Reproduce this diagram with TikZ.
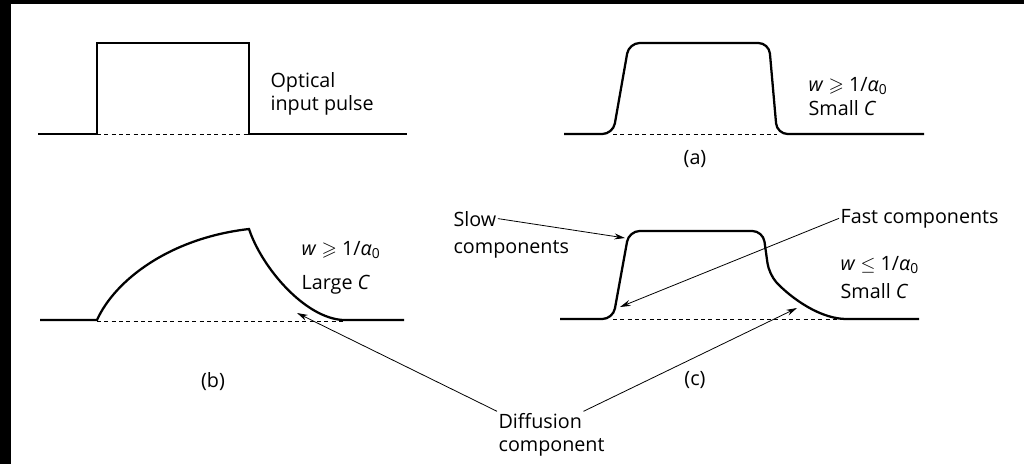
\documentclass[tikz,border=0pt]{standalone}
\usepackage{fontspec}
\usepackage{amssymb}
\setmainfont{Open Sans}
\usetikzlibrary{arrows.meta}

\begin{document}
\begin{tikzpicture}[x=0.75pt,y=-0.75pt,
    pulse/.style={black, line width=1.7pt},
    zero/.style={black, line width=0.7pt, dash pattern=on 3pt off 2.5pt},
    pointer/.style={black, line width=0.6pt, -{Stealth[length=8pt,width=4.5pt]}},
    lbl/.style={anchor=base west, inner sep=1pt, font=\fontsize{14.8}{18}\selectfont},
    caption/.style={inner sep=1pt, font=\fontsize{14.8}{18}\selectfont}]
        \useasboundingbox (0,0) rectangle (1024,464);
        \fill[black] (0,0) rectangle (11,464);
        \fill[black] (0,0) rectangle (1024,4);
        % The four pulse shapes, each with its dashed zero line.
            \draw[pulse] (38,134) -- (97,134) -- (97,43) -- (249,43) -- (249,134) -- (407,134);
            \draw[zero] (97,134) -- (249,134);
            \draw[pulse, rounded corners=8pt] (564,134) -- (613,134) -- (629,43) -- (769,43) -- (777,134) -- (924,134);
            \draw[zero] (613,134) -- (777,134);
            \draw[pulse] (40,320) -- (97,320) .. controls (115,280) and (170,238) .. (249,229)
                .. controls (262,268) and (305,318) .. (343,320) -- (404,320);
            \draw[zero] (97,321) -- (343,321);
            \draw[pulse, rounded corners=8pt] (560,319) -- (613,319) -- (629,231) -- (763,231) -- (769,274)
                [sharp corners] .. controls (785,292) and (815,318) .. (845,319) -- (919,319);
            \draw[zero] (613,319) -- (845,319);
        % Below nodes are the labels.
            \node[lbl] (optical) at (269,87) {Optical};
            \node[lbl] (inpulse) at (269,110) {input pulse};
            \node[lbl] (condaw) at (807,91) {\textit{w} $\geqslant$ 1/\textit{α}\textsubscript{0}};
            \node[lbl] (condac) at (807,115) {Small \textit{C}};
            \node[caption] (capa) at (695,159) {(a)};
            \node[lbl] (condbw) at (300,255) {\textit{w} $\geqslant$ 1/\textit{α}\textsubscript{0}};
            \node[lbl] (condbc) at (300,289) {Large \textit{C}};
            \node[caption] (capb) at (213,382) {(b)};
            \node[lbl] (condcw) at (839,270) {\textit{w} $\leq$ 1/\textit{α}\textsubscript{0}};
            \node[lbl] (condcc) at (839,298) {Small \textit{C}};
            \node[caption] (capc) at (695,380) {(c)};
            \node[lbl] (slow) at (452,226) {Slow};
            \node[lbl] (slowb) at (452,253) {components};
            \node[lbl] (fast) at (839,223) {Fast components};
            \node[lbl] (diff) at (497,428) {Diffusion};
            \node[lbl] (diffb) at (497,451) {component};
        % Arrows from the labels to the curves.
            \coordinate (slowtip) at (625,238);
            \coordinate (fasttip) at (620,307);
            \coordinate (difftipb) at (297,313);
            \coordinate (difftipc) at (797,308);
            \draw[pointer] (slow.east) -- (slowtip);
            \draw[pointer] (fast.west) -- (fasttip);
            \draw[pointer] (diff.north west) -- (difftipb);
            \draw[pointer] (diff.north east) -- (difftipc);
    \end{tikzpicture}
\end{document}
